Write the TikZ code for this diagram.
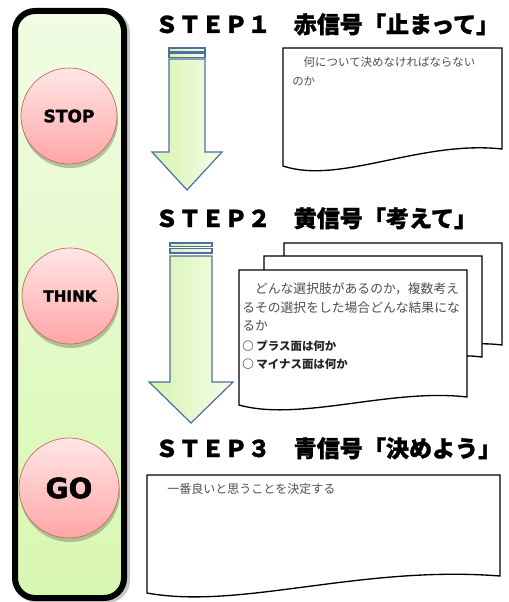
\documentclass[tikz,border=0pt]{standalone}
\usepackage{fontspec}
\setmainfont{Liberation Sans}
\newfontfamily\jp{Noto Sans CJK JP}
\newfontfamily\jph{Noto Sans CJK JP}[BoldFeatures={FakeBold=1.3}]
\newfontfamily\dvs{DejaVu Sans}[BoldFeatures={FakeBold=1.8}]
\definecolor{arrblue}{HTML}{4F6F9F}
\definecolor{arrL}{HTML}{D6F3AE}
\definecolor{arrR}{HTML}{F5FDEA}
\definecolor{sigborder}{HTML}{C86464}
\definecolor{sigtop}{HTML}{FFE6E6}
\definecolor{sigbot}{HTML}{FFA6A6}
\definecolor{paneltop}{HTML}{F1FCE3}
\definecolor{panelbot}{HTML}{D8F7B0}
\definecolor{bodygray}{HTML}{505050}
\definecolor{shadowc}{HTML}{7A8A6A}
\begin{document}
\begin{tikzpicture}[x=0.75pt,y=-0.75pt,
  docbox/.style={draw=black, line width=1pt, fill=white},
  arrowbox/.style={draw=arrblue, line width=0.9pt, left color=arrL, right color=arrR},
  signal/.style={circle, draw=sigborder, line width=0.5pt, top color=sigtop, bottom color=sigbot, inner sep=0pt, text=black},
  sigshadow/.style={fill=shadowc, opacity=0.5},
  title/.style={anchor=base west, inner sep=0pt, font=\jph\bfseries\fontsize{17.3pt}{20pt}\selectfont},
  body/.style={anchor=base west, inner sep=0pt, text=bodygray},
  bodybold/.style={anchor=base west, inner sep=0pt, text=black!85, font=\jp\bfseries\fontsize{8.6pt}{10pt}\selectfont},
]
\useasboundingbox (0,0) rectangle (508,602);

% left panel
\draw[line width=4.5pt, gray!45, rounded corners=15pt] (18,13) rectangle (127,600);
\draw[line width=4.5pt, black, rounded corners=15pt, top color=paneltop, bottom color=panelbot] (15,11) rectangle (124,598);

% signals
\fill[sigshadow] (70,120) circle[radius=48];
\node[signal, minimum size=72pt] (stop) at (69,116) {\dvs\bfseries\fontsize{12.8pt}{14pt}\selectfont STOP};
\fill[sigshadow] (71,300) circle[radius=48];
\node[signal, minimum size=72pt] (think) at (70,296) {\dvs\bfseries\fontsize{11.4pt}{13pt}\selectfont THINK};
\fill[sigshadow] (70,492) circle[radius=50];
\node[signal, minimum size=75pt] (go) at (69,488) {\dvs\bfseries\fontsize{21pt}{23pt}\selectfont GO};

% titles
\node[title] (t1) at (155,33) {ＳＴＥＰ１　赤信号「止まって」};
\node[title] (t2) at (155,227) {ＳＴＥＰ２　黄信号「考えて」};
\node[title] (t3) at (155,457) {ＳＴＥＰ３　青信号「決めよう」};

% arrow 1
\path[arrowbox] (169,48) rectangle (205,52);
\path[arrowbox] (169,53.5) rectangle (205,57.5);
\path[arrowbox] (169,59) -- (169,152) -- (152,152) -- (187,190) -- (222,152) -- (205,152) -- (205,59) -- cycle;

% arrow 2
\path[arrowbox] (170,243) rectangle (212,246.5);
\path[arrowbox] (170,248.5) rectangle (212,253);
\path[arrowbox] (170,256) -- (170,382) -- (149,382) -- (191,423) -- (233,382) -- (212,382) -- (212,256) -- cycle;

% document 1
\path[docbox] (283,48) -- (502,48) -- (502,149) .. controls (420,140) and (340,185) .. (283,166) -- cycle;
\node[body, font=\jp\fontsize{8.6pt}{10pt}\selectfont] (d1a) at (292,67) {　何について決めなければならない};
\node[body, font=\jp\fontsize{8.6pt}{10pt}\selectfont] (d1b) at (292,86) {のか};

% documents 2
\path[docbox] (284,243) -- (502,243) -- (502,345) .. controls (430,336) and (345,381) .. (284,362) -- cycle;
\path[docbox] (264,256) -- (482,256) -- (482,357) .. controls (410,348) and (325,393) .. (264,374) -- cycle;
\path[docbox] (239,270) -- (467,270) -- (467,397) .. controls (390,388) and (300,422) .. (239,405) -- cycle;
\node[body, font=\jp\fontsize{9.6pt}{11pt}\selectfont] (d2a) at (242,293) {　どんな選択肢があるのか，複数考え};
\node[body, font=\jp\fontsize{9.6pt}{11pt}\selectfont] (d2b) at (242,312) {るその選択をした場合どんな結果にな};
\node[body, font=\jp\fontsize{9.6pt}{11pt}\selectfont] (d2c) at (242,330) {るか};
\node[bodybold] (d2d) at (242,350) {○ プラス面は何か};
\node[bodybold] (d2e) at (242,368) {○ マイナス面は何か};

% document 3
\path[docbox] (147,475) -- (500,475) -- (500,576) .. controls (360,565) and (240,610) .. (147,593) -- cycle;
\node[body, font=\jp\fontsize{9pt}{10pt}\selectfont] (d3a) at (167,493) {一番良いと思うことを決定する};
\end{tikzpicture}
\end{document}
